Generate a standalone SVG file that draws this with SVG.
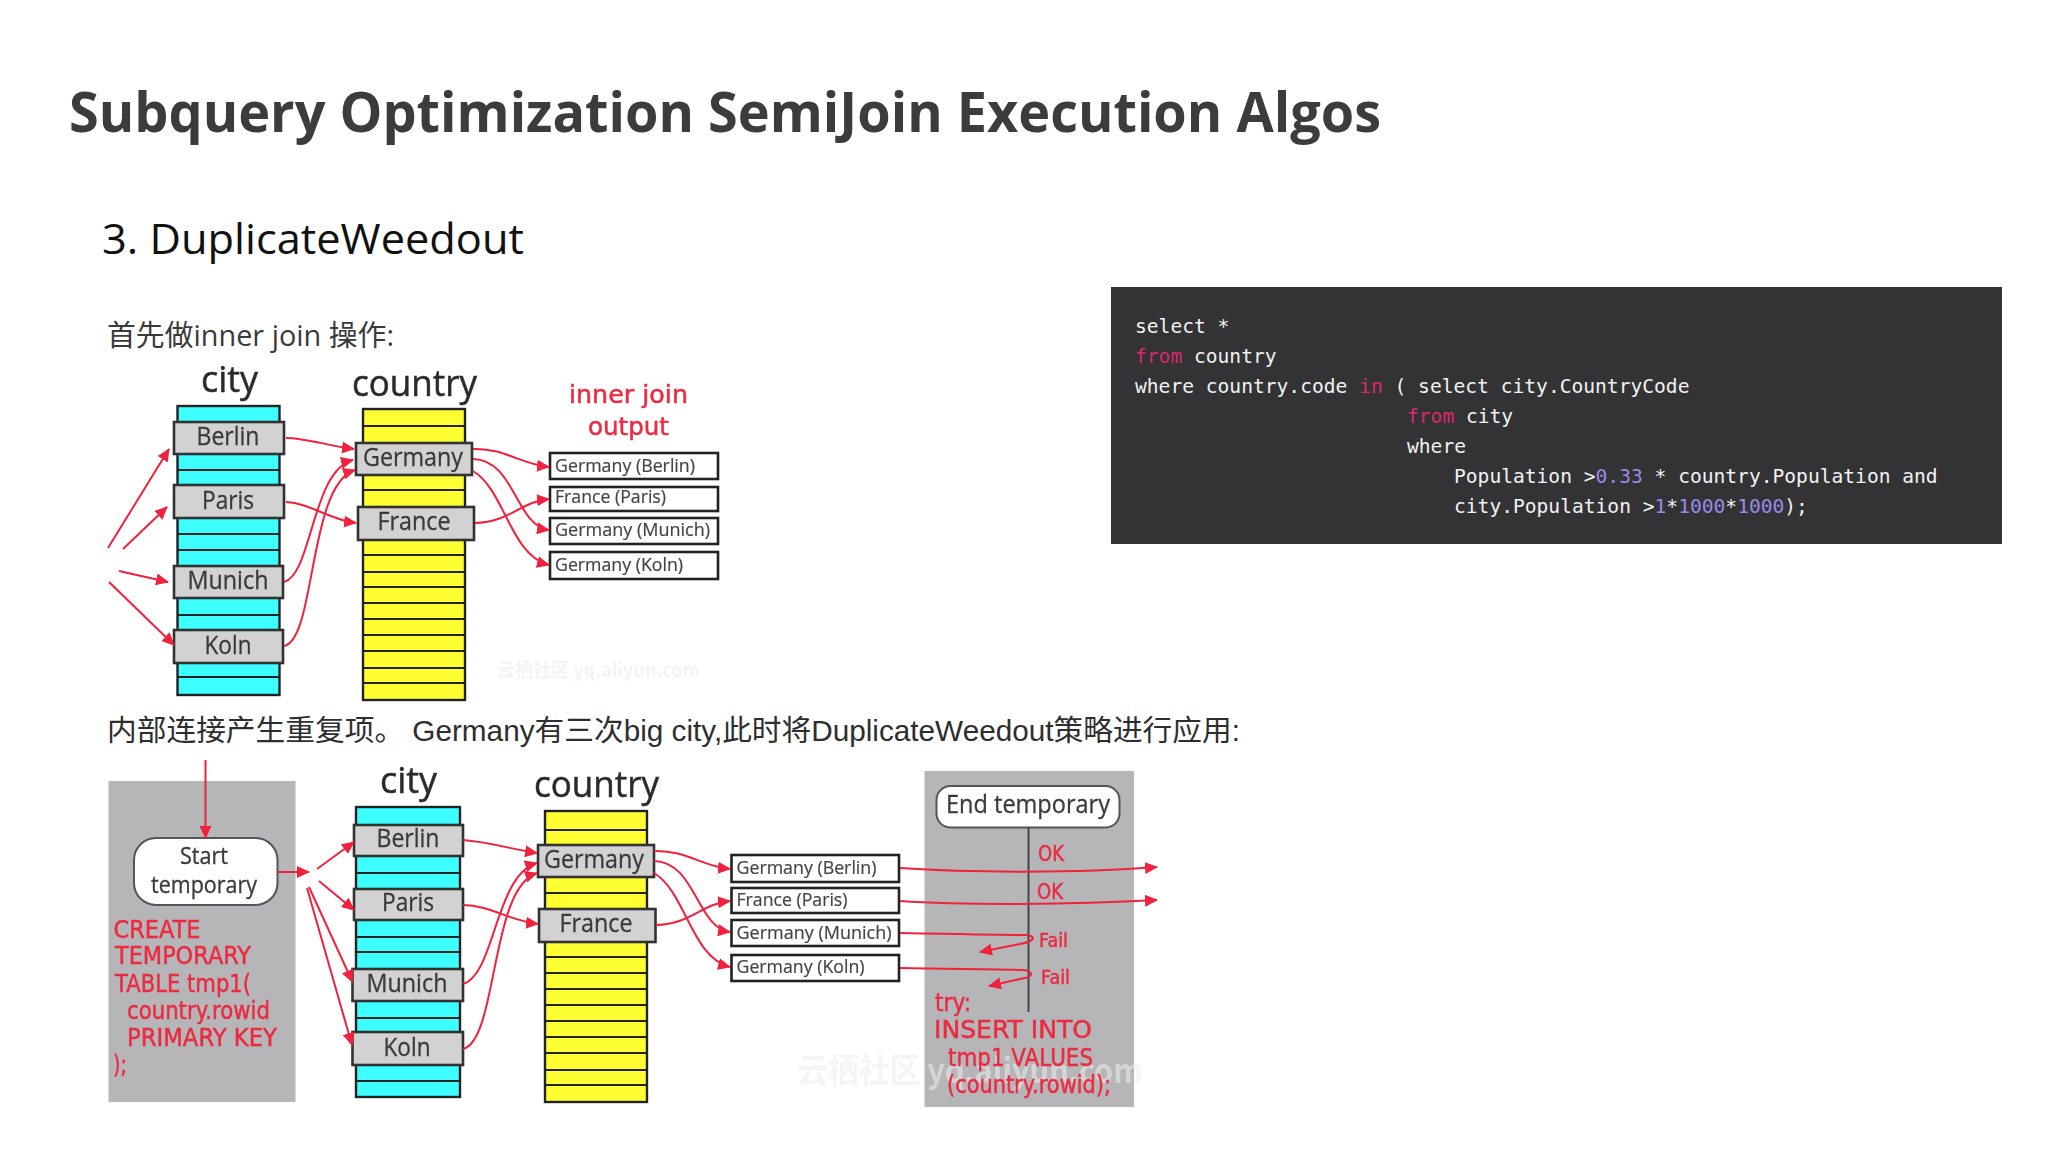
<svg xmlns="http://www.w3.org/2000/svg" width="2048" height="1152" viewBox="0 0 2048 1152">
<defs>
<marker id="ah" markerUnits="userSpaceOnUse" markerWidth="14" markerHeight="12" refX="12" refY="6" orient="auto"><path d="M0 0L13 6L0 12Z" fill="#f0203c"/></marker>
<filter id="soft" x="-2%" y="-2%" width="104%" height="104%"><feGaussianBlur stdDeviation="0.6"/></filter>
</defs>
<style>
text{font-family:"Open Sans","Noto Sans",sans-serif}
.title{font-weight:700;font-size:56px;fill:#3a3c3e}
.sub{font-size:42px;fill:#111}
.cn1{font-family:"Open Sans","Noto Sans CJK SC",sans-serif;font-size:29px;fill:#3a3a3a}
.cn2{font-family:"Liberation Sans","Noto Sans CJK SC",sans-serif;font-size:29px;fill:#2e2e2e}
.code{font-family:"DejaVu Sans Mono","Liberation Mono",monospace;font-size:19.6px;fill:#f2f2f2;white-space:pre}
.kw{fill:#d9286a}.num{fill:#9a88e6}
.codebg{fill:#333335}
.cy{fill:#3cffff;stroke:#222;stroke-width:2.4}
.co{fill:#ffff33;stroke:#222;stroke-width:2.4}
.row{stroke:#222;stroke-width:2.2;fill:none}
.hl{fill:#d2d2d2;stroke:#333;stroke-width:2.6}
.out{fill:#fff;stroke:#222;stroke-width:2.6}
.panel{fill:#b6b6b8}
.pill{fill:#fff;stroke:#555;stroke-width:2}
.hd{font-size:37px;fill:#2c2c2c;stroke:#2c2c2c;stroke-width:.5}
.lb{font-size:25px;fill:#3a3a3a;text-anchor:middle;stroke:#3a3a3a;stroke-width:.3}
.ot{font-size:19px;fill:#444;stroke:#444;stroke-width:.2}
.rd{font-family:"DejaVu Sans",sans-serif;font-size:24px;fill:#ec2a42;stroke:#ec2a42;stroke-width:.5}
.ln{fill:none;stroke:#f0203c;stroke-width:2;marker-end:url(#ah)}
.wm{fill:#ededed;font-family:"Noto Sans CJK SC",sans-serif;font-weight:700}
</style>

<text class="title" x="69" y="131.500" textLength="1312" lengthAdjust="spacingAndGlyphs">Subquery Optimization SemiJoin Execution Algos</text>
<text class="sub" x="102" y="254" textLength="422" lengthAdjust="spacingAndGlyphs">3. DuplicateWeedout</text>
<text class="cn1" x="107" y="346" textLength="287" lengthAdjust="spacingAndGlyphs">首先做inner join 操作:</text>
<text class="cn2" x="107" y="741" textLength="1133" lengthAdjust="spacingAndGlyphs">内部连接产生重复项。 Germany有三次big city,此时将DuplicateWeedout策略进行应用:</text>

<g id="code">
<rect class="codebg" x="1111" y="287" width="891" height="257"/>
<text class="code" x="1135" y="332.700">select *</text>
<text class="code" x="1135" y="362.700"><tspan class="kw">from</tspan> country</text>
<text class="code" x="1135" y="392.700">where country.code <tspan class="kw">in</tspan> ( select city.CountryCode</text>
<text class="code" x="1407" y="422.700"><tspan class="kw">from</tspan> city</text>
<text class="code" x="1407" y="452.700">where</text>
<text class="code" x="1454" y="482.700">Population &gt;<tspan class="num">0.33</tspan> * country.Population and</text>
<text class="code" x="1454" y="512.700">city.Population &gt;<tspan class="num">1</tspan>*<tspan class="num">1000</tspan>*<tspan class="num">1000</tspan>);</text>
</g>

<g filter="url(#soft)">
<g id="top-city">
<rect class="cy" x="177.500" y="406" width="102" height="289"/>
<path class="row" d="M177.500 470H279.500M177.500 534H279.500M177.500 550H279.500M177.500 615H279.500M177.500 677H279.500"/>
<text class="hd" x="201" y="392" textLength="57" lengthAdjust="spacingAndGlyphs">city</text>
<rect class="hl" x="174" y="422" width="110" height="32"/><text class="lb" x="228" y="445" textLength="63" lengthAdjust="spacingAndGlyphs">Berlin</text>
<rect class="hl" x="174" y="485" width="110" height="33"/><text class="lb" x="228" y="509" textLength="52" lengthAdjust="spacingAndGlyphs">Paris</text>
<rect class="hl" x="174" y="566" width="109" height="32"/><text class="lb" x="228" y="589" textLength="81" lengthAdjust="spacingAndGlyphs">Munich</text>
<rect class="hl" x="174" y="630" width="109" height="33"/><text class="lb" x="228" y="654" textLength="47" lengthAdjust="spacingAndGlyphs">Koln</text>
</g>
<g id="top-country">
<rect class="co" x="363" y="409" width="102" height="291"/>
<path class="row" d="M363 426H465M363 490H465M363 555H465M363 572H465M363 587H465M363 603H465M363 619H465M363 635H465M363 651H465M363 668H465M363 683H465"/>
<text class="hd" x="352" y="396" textLength="125" lengthAdjust="spacingAndGlyphs">country</text>
<rect class="hl" x="356" y="443" width="116" height="32"/><text class="lb" x="413" y="466" textLength="100" lengthAdjust="spacingAndGlyphs">Germany</text>
<rect class="hl" x="358" y="507" width="116" height="33"/><text class="lb" x="414" y="530" textLength="73" lengthAdjust="spacingAndGlyphs">France</text>
</g>
<g id="top-output">
<text class="rd" x="569" y="403" textLength="119" lengthAdjust="spacingAndGlyphs">inner join</text>
<text class="rd" x="588" y="435" textLength="81" lengthAdjust="spacingAndGlyphs">output</text>
<rect class="out" x="550" y="453" width="168" height="26"/><text class="ot" x="555" y="472" textLength="140" lengthAdjust="spacingAndGlyphs">Germany (Berlin)</text>
<rect class="out" x="550" y="487" width="168" height="24"/><text class="ot" x="555" y="503" textLength="111" lengthAdjust="spacingAndGlyphs">France (Paris)</text>
<rect class="out" x="550" y="518" width="168" height="26"/><text class="ot" x="555" y="536" textLength="155" lengthAdjust="spacingAndGlyphs">Germany (Munich)</text>
<rect class="out" x="550" y="552" width="168" height="27"/><text class="ot" x="555" y="571" textLength="128" lengthAdjust="spacingAndGlyphs">Germany (Koln)</text>
</g>

<g id="start-panel">
<rect class="panel" x="108.500" y="781" width="187" height="321"/>
<rect class="pill" x="134" y="838" width="143.500" height="67" rx="22"/>
<text class="lb" x="204" y="864" style="font-size:23px" textLength="48" lengthAdjust="spacingAndGlyphs">Start</text>
<text class="lb" x="204" y="893" style="font-size:23px" textLength="106" lengthAdjust="spacingAndGlyphs">temporary</text>
<text class="rd" x="113.500" y="938" textLength="87" lengthAdjust="spacingAndGlyphs">CREATE</text>
<text class="rd" x="115" y="964" textLength="136" lengthAdjust="spacingAndGlyphs">TEMPORARY</text>
<text class="rd" x="115" y="992" textLength="136" lengthAdjust="spacingAndGlyphs">TABLE tmp1(</text>
<text class="rd" x="127" y="1019" textLength="143" lengthAdjust="spacingAndGlyphs">country.rowid</text>
<text class="rd" x="127" y="1046" textLength="150" lengthAdjust="spacingAndGlyphs">PRIMARY KEY</text>
<text class="rd" x="113" y="1073" textLength="14" lengthAdjust="spacingAndGlyphs">);</text>
</g>
<g id="bottom-city">
<rect class="cy" x="356" y="807" width="104" height="290"/>
<path class="row" d="M356 873H460M356 937H460M356 952H460M356 1018H460M356 1081H460"/>
<text class="hd" x="380" y="793" textLength="57" lengthAdjust="spacingAndGlyphs">city</text>
<rect class="hl" x="354" y="825" width="109" height="31"/><text class="lb" x="408" y="847" textLength="63" lengthAdjust="spacingAndGlyphs">Berlin</text>
<rect class="hl" x="354" y="889" width="109" height="31"/><text class="lb" x="408" y="911" textLength="52" lengthAdjust="spacingAndGlyphs">Paris</text>
<rect class="hl" x="352.500" y="969" width="110.500" height="32"/><text class="lb" x="407" y="992" textLength="81" lengthAdjust="spacingAndGlyphs">Munich</text>
<rect class="hl" x="352.500" y="1032" width="110.500" height="33"/><text class="lb" x="407" y="1056" textLength="47" lengthAdjust="spacingAndGlyphs">Koln</text>
</g>
<g id="bottom-country">
<rect class="co" x="545" y="811" width="102" height="291"/>
<path class="row" d="M545 830H647M545 893H647M545 957H647M545 973H647M545 989H647M545 1005H647M545 1021H647M545 1037H647M545 1053H647M545 1070H647M545 1085H647"/>
<text class="hd" x="534" y="797" textLength="125" lengthAdjust="spacingAndGlyphs">country</text>
<rect class="hl" x="538" y="845" width="116" height="32"/><text class="lb" x="594" y="868" textLength="100" lengthAdjust="spacingAndGlyphs">Germany</text>
<rect class="hl" x="539" y="909" width="116.500" height="33"/><text class="lb" x="596" y="932" textLength="73" lengthAdjust="spacingAndGlyphs">France</text>
</g>
<g id="bottom-output">
<rect class="out" x="731.500" y="855" width="167.500" height="27"/><text class="ot" x="736.500" y="874" textLength="140" lengthAdjust="spacingAndGlyphs">Germany (Berlin)</text>
<rect class="out" x="731.500" y="888" width="167.500" height="25"/><text class="ot" x="736.500" y="906" textLength="111" lengthAdjust="spacingAndGlyphs">France (Paris)</text>
<rect class="out" x="731.500" y="920" width="167.500" height="26"/><text class="ot" x="736.500" y="939" textLength="155" lengthAdjust="spacingAndGlyphs">Germany (Munich)</text>
<rect class="out" x="731.500" y="955" width="167.500" height="26"/><text class="ot" x="736.500" y="973" textLength="128" lengthAdjust="spacingAndGlyphs">Germany (Koln)</text>
</g>
<g id="end-panel">
<rect class="panel" x="924.500" y="771" width="209.500" height="336"/>
<text class="wm" x="797" y="1083" style="font-size:34px" textLength="346" lengthAdjust="spacingAndGlyphs" opacity=".55">云栖社区 yq.aliyun.com</text>
<rect class="pill" x="936.500" y="786" width="183" height="41.500" rx="14"/>
<text class="lb" x="1028" y="813" textLength="164" lengthAdjust="spacingAndGlyphs">End temporary</text>
<path d="M1028.500 827V1012" stroke="#444" stroke-width="2" fill="none"/>
<text class="rd" x="1038" y="861" style="font-size:21px" textLength="26" lengthAdjust="spacingAndGlyphs">OK</text>
<text class="rd" x="1037" y="899" style="font-size:21px" textLength="26" lengthAdjust="spacingAndGlyphs">OK</text>
<text class="rd" x="1039" y="947" style="font-size:20px" textLength="29" lengthAdjust="spacingAndGlyphs">Fail</text>
<text class="rd" x="1041" y="984" style="font-size:20px" textLength="29" lengthAdjust="spacingAndGlyphs">Fail</text>
<text class="rd" x="935" y="1011" textLength="36" lengthAdjust="spacingAndGlyphs">try:</text>
<text class="rd" x="934" y="1038" textLength="158" lengthAdjust="spacingAndGlyphs">INSERT INTO</text>
<text class="rd" x="948" y="1066" textLength="145" lengthAdjust="spacingAndGlyphs">tmp1 VALUES</text>
<text class="rd" x="947" y="1093" textLength="164" lengthAdjust="spacingAndGlyphs">(country.rowid);</text>
</g>

<g id="connectors">
<path class="ln" d="M108 548L169 449"/>
<path class="ln" d="M123 549L167 507"/>
<path class="ln" d="M119 571L168 582"/>
<path class="ln" d="M109 582L174 645"/>
<path class="ln" d="M286 438C305 438 330 446 354 449"/>
<path class="ln" d="M286 502C310 503 330 520 356 523"/>
<path class="ln" d="M284 582C312 575 312 470 353 460"/>
<path class="ln" d="M284 646C316 640 308 485 355 470"/>
<path class="ln" d="M473 449C505 448 520 464 549 467"/>
<path class="ln" d="M473 459C515 460 515 525 549 530"/>
<path class="ln" d="M473 471C505 490 510 555 549 565"/>
<path class="ln" d="M475 523C510 522 520 502 549 499"/>
<path class="ln" d="M205.500 760V838"/>
<path class="ln" d="M277.500 872H309"/>
<path class="ln" d="M317 869L354 842"/>
<path class="ln" d="M319 881L354 910"/>
<path class="ln" d="M309 887L352.500 982"/>
<path class="ln" d="M307 888L352 1045"/>
<path class="ln" d="M463 840C490 842 510 849 537 853"/>
<path class="ln" d="M463 905C490 905 510 921 538 924"/>
<path class="ln" d="M463 984C495 975 495 875 537 863"/>
<path class="ln" d="M463 1049C498 1040 490 888 537 873"/>
<path class="ln" d="M654 851C686 850 701 866 730 869"/>
<path class="ln" d="M654 861C696 862 696 927 730 932"/>
<path class="ln" d="M654 873C686 892 691 957 730 967"/>
<path class="ln" d="M656 925C691 924 701 904 730 901"/>
<path class="ln" d="M900 868C960 872 1070 874 1157 867"/>
<path class="ln" d="M900 901C960 905 1070 905 1157 900"/>
<path class="ln" d="M900 933C950 934 1000 935 1026 935C1036 936 1036 941 1020 944L980 952"/>
<path class="ln" d="M900 968C950 969 1000 969 1024 970C1034 972 1034 977 1020 979L989 986"/>
</g>
<text class="wm" x="497" y="677" style="font-size:19px" textLength="203" lengthAdjust="spacingAndGlyphs" opacity=".6">云栖社区 yq.aliyun.com</text>
</g>
</svg>
